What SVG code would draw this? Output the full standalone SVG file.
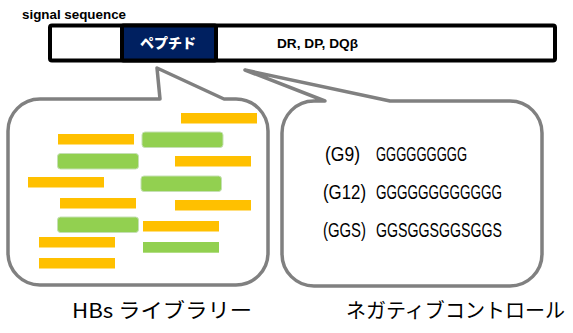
<svg xmlns="http://www.w3.org/2000/svg" width="573" height="333" viewBox="0 0 573 333">
<style>
.bubble{fill:#fff;stroke:#808080;stroke-width:3.5;stroke-linejoin:round}
.y{fill:#FFC000}
.g{fill:#92D050;stroke:#C5E0B4;stroke-width:1}
.lbl{font-family:"Liberation Sans",Arial,sans-serif;font-weight:bold;fill:#000}
.seq{font-family:"Liberation Sans Narrow","Liberation Sans",Arial,sans-serif;font-size:20.5px;fill:#000}
.jp{font-family:"Noto Sans CJK JP","Noto Sans",sans-serif;fill:#000}
</style>
<rect width="573" height="333" fill="#fff"/>
<g id="construct">
  <rect x="50" y="25.5" width="505" height="35" rx="2" fill="#fff" stroke="#000" stroke-width="4"/>
  <text class="lbl" x="22" y="19" font-size="12.5" textLength="104" lengthAdjust="spacingAndGlyphs">signal sequence</text>
  <text class="lbl" x="277" y="48" font-size="12.5" textLength="81" lengthAdjust="spacingAndGlyphs">DR, DP, DQβ</text>
</g>
<g id="peptide">
  <rect x="122" y="25.5" width="94" height="35" rx="1.5" fill="#002060" stroke="#000" stroke-width="4"/>
  <text x="168" y="47.5" text-anchor="middle" font-family="Noto Sans CJK JP, sans-serif" font-weight="900" font-size="14" fill="#fff">ペプチド</text>
</g>
<g id="library">
  <path class="bubble" d="M160,99 L157,68 L224,99 L236,99 A32,32 0 0 1 268,131 L268,253 A32,32 0 0 1 236,285 L40,285 A32,32 0 0 1 8,253 L8,131 A32,32 0 0 1 40,99 Z"/>
  <rect class="y" x="181" y="113" width="76" height="10.5"/>
  <rect class="y" x="58" y="134" width="76" height="10.5"/>
  <rect class="y" x="175" y="156" width="76" height="10.5"/>
  <rect class="y" x="28" y="177" width="76" height="10.5"/>
  <rect class="y" x="60" y="198" width="76" height="10.5"/>
  <rect class="y" x="175" y="200" width="76" height="10.5"/>
  <rect class="y" x="143" y="221" width="76" height="10.5"/>
  <rect class="y" x="39" y="237" width="76" height="10.5"/>
  <rect class="y" x="39" y="258" width="76" height="10.5"/>
  <rect class="g" x="142" y="132" width="81" height="15.5" rx="3"/>
  <rect class="g" x="57.5" y="153.5" width="81" height="15.5" rx="3"/>
  <rect class="g" x="141" y="176" width="80.5" height="15.5" rx="3"/>
  <rect class="g" x="57.5" y="217" width="81" height="15.5" rx="3"/>
  <rect x="143" y="242" width="76" height="10.7" fill="#92D050"/>
  <text class="jp" x="72" y="318" font-size="20.5" textLength="180" lengthAdjust="spacingAndGlyphs">HBs ライブラリー</text>
</g>
<g id="negative">
  <path class="bubble" d="M325,101 L245,70 L390,101 L510,101 A32,32 0 0 1 542,133 L542,254 A32,32 0 0 1 510,286 L314,286 A32,32 0 0 1 282,254 L282,133 A32,32 0 0 1 314,101 Z"/>
  <text class="seq" y="161"><tspan x="325" textLength="35" lengthAdjust="spacingAndGlyphs">(G9)</tspan><tspan x="376" textLength="91" lengthAdjust="spacingAndGlyphs">GGGGGGGGG</tspan></text>
  <text class="seq" y="199"><tspan x="323" textLength="43" lengthAdjust="spacingAndGlyphs">(G12)</tspan><tspan x="376" textLength="126" lengthAdjust="spacingAndGlyphs">GGGGGGGGGGGG</tspan></text>
  <text class="seq" y="237"><tspan x="323" textLength="43" lengthAdjust="spacingAndGlyphs">(GGS)</tspan><tspan x="376" textLength="126" lengthAdjust="spacingAndGlyphs">GGSGGSGGSGGS</tspan></text>
  <text class="jp" x="346" y="318" font-size="20.5" textLength="219" lengthAdjust="spacingAndGlyphs">ネガティブコントロール</text>
</g>
</svg>
